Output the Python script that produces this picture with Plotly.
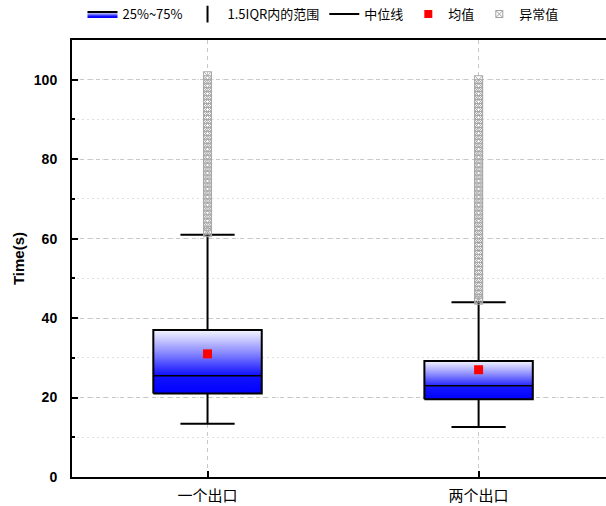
import plotly.graph_objects as go

categories = ["一个出口", "两个出口"]
q1 = [21.0, 19.6]
median = [25.5, 23.0]
q3 = [37.0, 29.2]
lower_whisker = [13.4, 12.6]
upper_whisker = [61.0, 44.0]
mean = [31.0, 27.0]
outliers_1 = [61.5, 62, 63, 64, 65, 66, 67, 68, 69, 70, 71, 72, 73, 74, 75, 76, 77, 78, 79, 80,
              81, 82, 83, 84, 85, 86, 87, 88, 89, 90, 91, 92, 93, 94, 95, 96, 97, 98, 99, 100, 101]
outliers_2 = [44.5, 45, 46, 47, 48, 49, 50, 51, 52, 53, 54, 55, 56, 57, 58, 59, 60, 61, 62, 63,
              64, 65, 66, 67, 68, 69, 70, 71, 72, 73, 74, 75, 76, 77, 78, 79, 80, 81, 82, 83,
              84, 85, 86, 87, 88, 89, 90, 91, 92, 93, 94, 95, 96, 97, 98, 99, 100]
outliers = [outliers_1, outliers_2]

BOX_HALF = 0.2
CAP_HALF = 0.1
grad = [[0, "#0000ff"], [0.3, "#1414ff"], [0.65, "#8c8cff"], [1, "#f6f6ff"]]
FONT_CJK = "Noto Sans CJK SC"

fig = go.Figure()

for i in range(len(categories)):
    x0, x1 = i - BOX_HALF, i + BOX_HALF
    # whiskers
    fig.add_trace(go.Scatter(
        x=[i, i, None, i, i, None, i - CAP_HALF, i + CAP_HALF, None, i - CAP_HALF, i + CAP_HALF],
        y=[q3[i], upper_whisker[i], None, q1[i], lower_whisker[i], None,
           upper_whisker[i], upper_whisker[i], None, lower_whisker[i], lower_whisker[i]],
        mode="lines", line=dict(color="black", width=2), showlegend=False, hoverinfo="skip"))
    # outliers
    fig.add_trace(go.Scatter(
        x=[i] * len(outliers[i]), y=outliers[i], mode="markers",
        marker=dict(symbol="square-x-open", size=8, color="#a8a8a8", line=dict(width=1)),
        showlegend=False, hoverinfo="skip"))
    # box with gradient
    fig.add_trace(go.Scatter(
        x=[x0, x1, x1, x0, x0], y=[q1[i], q1[i], q3[i], q3[i], q1[i]],
        mode="lines", fill="toself",
        fillgradient=dict(type="vertical", colorscale=grad, start=q1[i], stop=q3[i]),
        line=dict(color="black", width=2), name="25%~75%",
        showlegend=(i == 0), legendrank=1))
    # median
    fig.add_trace(go.Scatter(
        x=[x0, x1], y=[median[i], median[i]], mode="lines",
        line=dict(color="black", width=1.5), showlegend=False, hoverinfo="skip"))
    # mean
    fig.add_trace(go.Scatter(
        x=[i], y=[mean[i]], mode="markers",
        marker=dict(symbol="square", size=9, color="#ff0000"),
        showlegend=False))

# legend-only entries
fig.add_trace(go.Scatter(x=[None], y=[None], mode="markers", name="1.5IQR内的范围",
                         marker=dict(symbol="line-ns-open", size=12, color="black",
                                     line=dict(width=2, color="black")), legendrank=2))
fig.add_trace(go.Scatter(x=[None], y=[None], mode="lines", name="中位线",
                         line=dict(color="black", width=2), legendrank=3))
fig.add_trace(go.Scatter(x=[None], y=[None], mode="markers", name="均值",
                         marker=dict(symbol="square", size=8, color="#ff0000"), legendrank=4))
fig.add_trace(go.Scatter(x=[None], y=[None], mode="markers", name="异常值",
                         marker=dict(symbol="square-x-open", size=7, color="#a0a0a0"), legendrank=5))

fig.update_layout(
    width=606, height=506,
    margin=dict(l=72, r=0, t=40, b=29, autoexpand=False),
    paper_bgcolor="white", plot_bgcolor="white",
    font=dict(family=FONT_CJK, color="black"),
    legend=dict(orientation="h", x=0.47, xanchor="center", y=1.025, yanchor="bottom",
                font=dict(size=13, family=FONT_CJK), itemwidth=30, tracegroupgap=0,
                bgcolor="rgba(0,0,0,0)"),
    xaxis=dict(
        range=[-0.5, 1.47], tickvals=[0, 1], ticktext=categories,
        showline=True, linecolor="black", linewidth=2, mirror=True,
        ticks="inside", ticklen=6, tickwidth=2, tickcolor="black",
        ticklabelstandoff=4,
        showgrid=True, gridcolor="#c8c8c8", griddash="4px,4px", gridwidth=1,
        zeroline=False, automargin=False, tickfont=dict(size=15, family=FONT_CJK)),
    yaxis=dict(
        range=[0, 110], tickvals=[0, 20, 40, 60, 80, 100],
        showline=True, linecolor="black", linewidth=2,
        ticks="inside", ticklen=6, tickwidth=2, tickcolor="black",
        ticklabelstandoff=10, automargin=False,
        showgrid=True, gridcolor="#c8c8c8", griddash="4px,4px", gridwidth=1,
        zeroline=False,
        minor=dict(dtick=10, ticks="inside", ticklen=3, tickwidth=2, tickcolor="black",
                   showgrid=True, gridcolor="#e0e0e0", griddash="2px,3px"),
        tickfont=dict(size=14, family="Liberation Sans", weight="bold"),
        title=dict(text="Time(s)", font=dict(size=15, family="Liberation Sans", weight="bold"),
                   standoff=6)),
)

fig.write_html("out.html", config={"displayModeBar": False},
               post_script="document.body.style.margin='0';")
